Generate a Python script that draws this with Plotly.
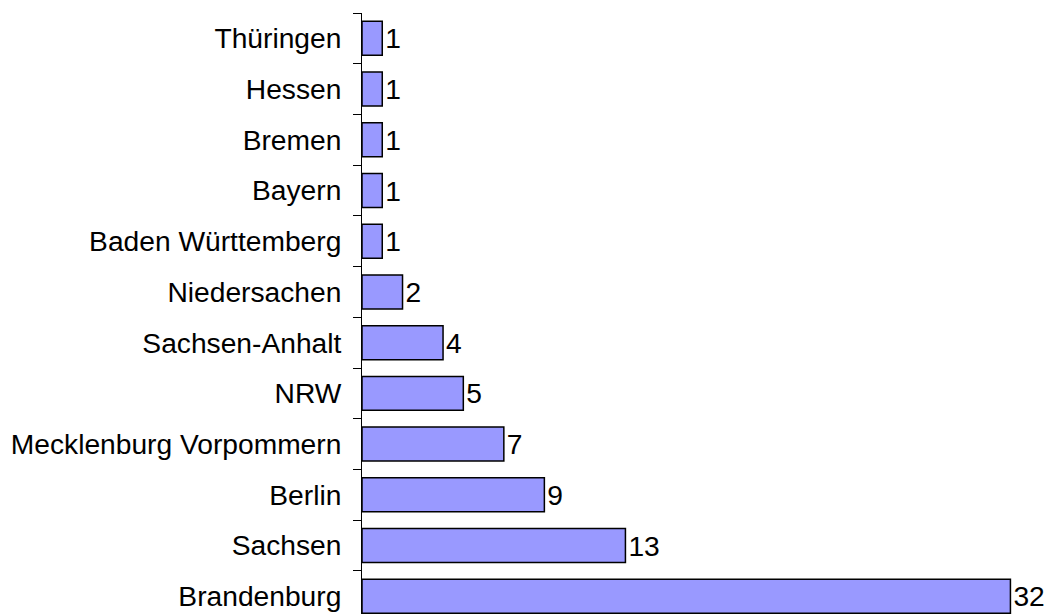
import plotly.graph_objects as go

categories = ["Brandenburg", "Sachsen", "Berlin", "Mecklenburg Vorpommern", "NRW",
              "Sachsen-Anhalt", "Niedersachen", "Baden Württemberg", "Bayern",
              "Bremen", "Hessen", "Thüringen"]
values = [32, 13, 9, 7, 5, 4, 2, 1, 1, 1, 1, 1]

FONT = "Liberation Sans, Arial, sans-serif"
FS = 28.2

fig = go.Figure(go.Bar(
    y=categories,
    x=values,
    orientation="h",
    marker=dict(color="#9999FF", line=dict(color="black", width=1.5)),
    width=0.67,
    text=values,
    texttemplate="%{x}",
    textposition="outside",
    cliponaxis=False,
    constraintext="none",
    textfont=dict(family=FONT, size=FS, color="black"),
))

fig.update_layout(
    width=1046, height=606,
    margin=dict(l=354, r=0, t=5, b=0),
    paper_bgcolor="white", plot_bgcolor="white",
    showlegend=False,
    font=dict(family=FONT, size=FS, color="black"),
    xaxis=dict(range=[0, 34.15], visible=False, showgrid=False, zeroline=False),
    yaxis=dict(
        type="category",
        range=[-0.35, 11.5],
        showline=True, linecolor="black", linewidth=1,
        ticks="outside", tickson="boundaries", ticklen=8, tickcolor="black", tickwidth=1,
        ticklabelstandoff=14,
        showgrid=False, zeroline=False,
        tickfont=dict(family=FONT, size=FS, color="black"),
        automargin=False,
    ),
)

fig.write_html("out.html")
